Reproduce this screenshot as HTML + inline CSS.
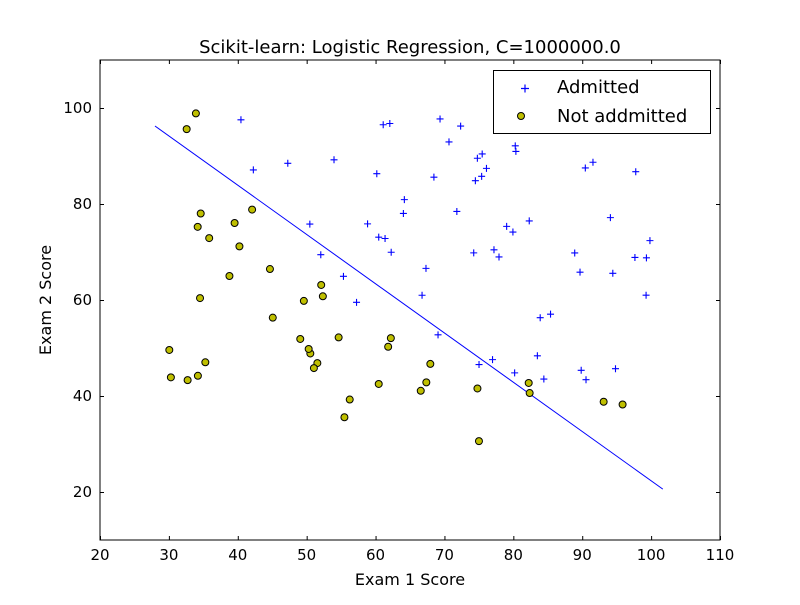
<!DOCTYPE html>
<html><head><meta charset="utf-8"><style>
body{margin:0;background:#fff;}
svg text{font-family:"DejaVu Sans","Liberation Sans",sans-serif;}
</style></head><body>
<svg id="chart" width="800" height="600" xmlns="http://www.w3.org/2000/svg">
<rect width="800" height="600" fill="#fff"/>
<text x="410" y="53" font-size="18" text-anchor="middle">Scikit-learn: Logistic Regression, C=1000000.0</text>
<g id="plot"></g>
<rect x="100" y="60" width="620" height="480" fill="none" stroke="#000" stroke-width="1"/>
<text x="410" y="585" font-size="16" text-anchor="middle">Exam 1 Score</text>
<text x="51" y="300" font-size="16" text-anchor="middle" transform="rotate(-90 51 300)">Exam 2 Score</text>
<g>
<rect x="493.5" y="70.5" width="217" height="63" fill="#fff" stroke="#000"/>
<g>
<path d="M521,88.5h8M525,84.5v8" stroke="#00f" stroke-width="1.2"/>
<text x="557" y="93" font-size="18">Admitted</text></g>
<g>
<circle cx="521" cy="116" r="3.5" fill="#bfbf00" stroke="#000" stroke-width="1"/>
<text x="557" y="122" font-size="18">Not addmitted</text></g>
</g>
</svg>
<script>
const xTicks=[20,30,40,50,60,70,80,90,100,110];
const yTicks=[20,40,60,80,100];
const admitX=[60.18,79.03,61.11,75.02,76.10,84.43,82.31,69.36,53.97,69.07,70.66,76.98,89.68,77.92,62.27,80.19,61.38,85.40,52.05,64.18,83.90,94.44,77.19,97.77,62.07,91.56,79.94,99.27,90.55,97.65,74.25,71.80,75.40,40.46,80.28,66.75,64.04,72.35,60.46,58.84,99.83,47.26,50.46,88.91,94.83,67.32,57.24,80.37,68.47,75.48,78.64,94.09,90.45,74.49,89.85,83.49,42.26,99.32,55.34,74.78];
const admitY=[86.31,75.34,96.51,46.55,87.42,43.53,76.48,97.72,89.21,52.74,92.93,47.58,65.80,68.97,69.95,44.82,72.81,57.05,69.43,80.91,56.31,65.57,70.46,86.73,96.77,88.70,74.16,61.00,43.39,68.86,69.82,78.45,85.76,97.54,92.12,60.99,78.03,96.23,73.09,75.86,72.37,88.48,75.81,69.80,45.69,66.59,59.51,90.96,85.59,90.42,96.65,77.16,87.51,84.85,45.36,48.38,87.10,68.78,64.93,89.53];
const rejX=[34.62,30.29,35.85,45.08,95.86,75.01,39.54,67.95,67.37,50.53,34.21,93.11,61.83,38.79,52.11,40.24,54.64,33.92,74.79,34.18,51.55,82.37,51.05,62.22,34.52,50.29,49.59,32.58,35.29,56.25,30.06,44.67,66.56,49.07,32.72,60.46,82.23,42.08,52.35,55.48];
const rejY=[78.02,43.89,72.90,56.32,38.23,30.60,76.04,46.68,42.84,48.86,44.21,38.80,50.26,65.00,63.13,71.17,52.21,98.87,41.57,75.24,46.86,40.62,45.82,52.06,60.40,49.80,59.81,95.60,47.02,39.26,49.59,66.45,41.09,51.88,43.31,42.51,42.72,78.84,60.77,35.57];
const boundaryX=[27.98,101.7];
const boundaryY=[96.25,20.6];
const X0=100,X1=720,Y0=540,Y1=60,xmin=20,xmax=110,ymin=10,ymax=110;
const sx=v=>X0+(v-xmin)/(xmax-xmin)*(X1-X0);
const sy=v=>Y0-(v-ymin)/(ymax-ymin)*(Y0-Y1);
const NS='http://www.w3.org/2000/svg';
const g=document.getElementById('plot');
function mk(t,a){const e=document.createElementNS(NS,t);for(const k in a)e.setAttribute(k,a[k]);g.appendChild(e);return e;}
xTicks.forEach(v=>{const x=sx(v)+0.5;
const t=mk('path',{d:`M${x},540v-4M${x},60v4`,stroke:'#000'});


const l=mk('text',{x:sx(v),y:560,'font-size':15,'text-anchor':'middle'});l.textContent=v;

});
yTicks.forEach(v=>{const y=sy(v)+0.5;
const t=mk('path',{d:`M100,${y}h4M720,${y}h-4`,stroke:'#000'});


const l=mk('text',{x:92,y:sy(v)+5,'font-size':15,'text-anchor':'end'});l.textContent=v;

});
const ln=mk('line',{x1:sx(boundaryX[0]),y1:sy(boundaryY[0]),x2:sx(boundaryX[1]),y2:sy(boundaryY[1]),stroke:'#00f','stroke-width':1});


admitX.forEach((v,i)=>{const x=sx(v),y=sy(admitY[i]);
const p=mk('path',{d:`M${x-3.5},${y}h7M${x},${y-3.5}v7`,stroke:'#00f','stroke-width':1.1});

});
rejX.forEach((v,i)=>{
const c=mk('circle',{cx:sx(v),cy:sy(rejY[i]),r:3.5,fill:'#bfbf00',stroke:'#000','stroke-width':1});

});
</script>
</body></html>
